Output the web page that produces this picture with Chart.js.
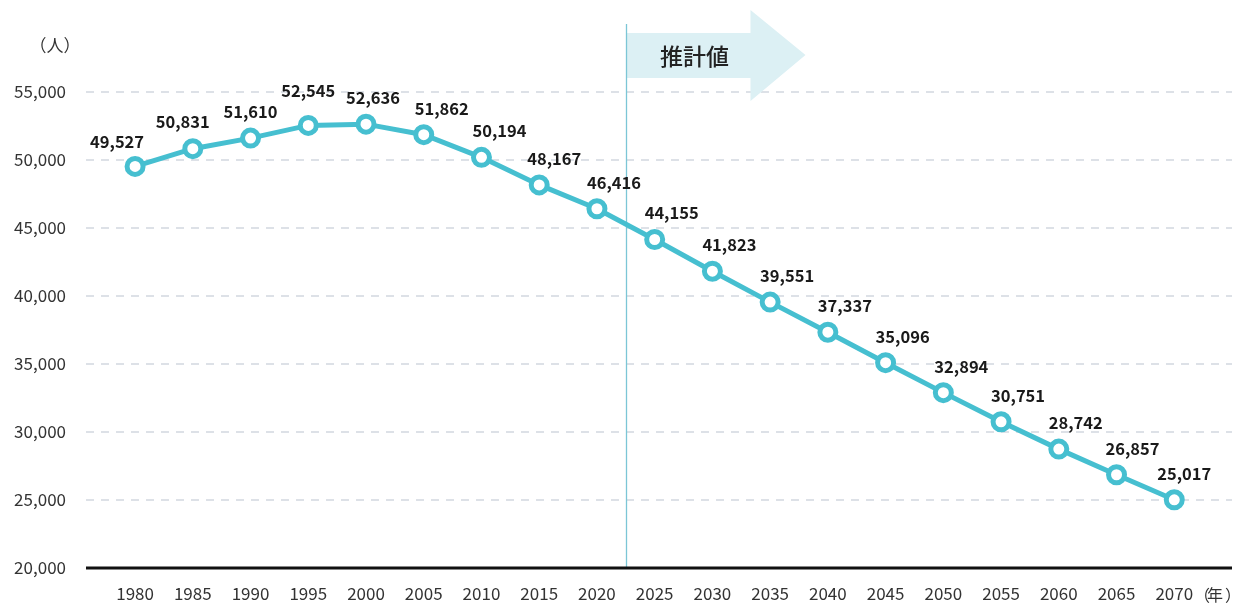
<!DOCTYPE html>
<html><head><meta charset="utf-8">
<script src="https://cdn.jsdelivr.net/npm/chart.js@4"></script>
<style>html,body{margin:0;padding:0;background:#fff}#w{width:1235px;height:607px;position:relative}</style>
</head><body><div id="w"><canvas id="c"></canvas></div>
<script>
const years = [1980,1985,1990,1995,2000,2005,2010,2015,2020,2025,2030,2035,2040,2045,2050,2055,2060,2065,2070];
const population = [49527,50831,51610,52545,52636,51862,50194,48167,46416,44155,41823,39551,37337,35096,32894,30751,28742,26857,25017];
const yTicks = [20000,25000,30000,35000,40000,45000,50000,55000];
const yUnit = '（人）';
const xUnit = '（年）';
const estimateLabel = '推計値';
const estimateStart = 2022.5;

// label placement (style): horizontal shift and baseline rise relative to each point
const labelShiftX = [-18,-10,0,0,7,18,18,15,17,17,17,17,17,17,18,17,17,16,10];
const labelRise = [18,21,20,28,20,20,20,20,20,20,20,20,20,20,20,20,20,20,20];

const FONT = '"Noto Sans CJK JP","Noto Sans",sans-serif';
const LINE = '#46bfd0';

const deco = {
  id:'deco',
  beforeDatasetsDraw(chart){
    const {ctx, scales:{x,y}, chartArea} = chart;
    const lx = Math.round(x.getPixelForValue(estimateStart)) + 0.5;
    ctx.save();
    // arrow
    ctx.fillStyle = '#dcf0f4';
    ctx.beginPath();
    ctx.moveTo(lx, 33);
    ctx.lineTo(lx+124, 33);
    ctx.lineTo(lx+124, 10);
    ctx.lineTo(lx+179, 55);
    ctx.lineTo(lx+124, 101);
    ctx.lineTo(lx+124, 78);
    ctx.lineTo(lx, 78);
    ctx.closePath();
    ctx.fill();
    ctx.fillStyle = '#222';
    ctx.font = '500 23px ' + FONT;
    ctx.textAlign = 'center'; ctx.textBaseline = 'middle';
    ctx.fillText(estimateLabel, lx+68, 56);
    // vertical line
    ctx.strokeStyle = '#7cc6d6';
    ctx.lineWidth = 1.3;
    ctx.beginPath(); ctx.moveTo(lx, 24); ctx.lineTo(lx, chartArea.bottom); ctx.stroke();
    // baseline
    ctx.strokeStyle = '#111'; ctx.lineWidth = 3;
    ctx.beginPath(); ctx.moveTo(chartArea.left, y.getPixelForValue(20000)); ctx.lineTo(chartArea.right, y.getPixelForValue(20000)); ctx.stroke();
    // unit labels
    ctx.fillStyle = '#333';
    ctx.font = '17px ' + FONT;
    ctx.textAlign = 'center';
    ctx.fillText(yUnit, 55, 46);
    // x unit: draw glyphs individually to keep it tight next to the last tick
    const chars = Array.from(xUnit);
    ctx.textAlign = 'left';
    ctx.font = '16px ' + FONT;
    ctx.fillText(chars[0], 1194, 595);
    ctx.fillText(chars[1], 1207, 595);
    ctx.fillText(chars[2], 1225, 595);
    ctx.restore();
  },
  afterDatasetsDraw(chart){
    const {ctx} = chart;
    const meta = chart.getDatasetMeta(0);
    ctx.save();
    ctx.fillStyle = '#1a1a1a';
    ctx.font = 'bold 16.5px ' + FONT;
    ctx.textAlign = 'center'; ctx.textBaseline = 'alphabetic';
    meta.data.forEach((p,i)=>{
      ctx.fillText(population[i].toLocaleString('en-US'), p.x + labelShiftX[i], p.y - labelRise[i]);
    });
    ctx.restore();
  }
};

new Chart(document.getElementById('c'), {
  type:'line',
  data:{ datasets:[{
    data: years.map((yr,i)=>({x:yr, y:population[i]})),
    borderColor: LINE, borderWidth: 5,
    pointRadius: 8, pointBorderWidth: 5, pointBackgroundColor:'#fff', pointBorderColor: LINE,
    pointHoverRadius: 8, tension: 0, clip: false
  }]},
  options:{
    responsive:true, maintainAspectRatio:false, animation:false,
    layout:{autoPadding:false, padding:{top:92, right:3, bottom:0, left:0}},
    plugins:{legend:{display:false}, tooltip:{enabled:false}},
    scales:{
      x:{ type:'linear', min:1975.75, max:2075,
        afterBuildTicks(s){ s.ticks = years.map(v=>({value:v})); },
        afterFit(s){ s.height = 39; s.paddingLeft = 0; s.paddingRight = 0; },
        grid:{display:false, drawTicks:false}, border:{display:false},
        ticks:{ color:'#333', font:{family:FONT, size:17}, padding:15, maxRotation:0, autoSkip:false,
          callback:v=>String(v) }
      },
      y:{ min:20000, max:55000,
        afterBuildTicks(s){ s.ticks = yTicks.map(v=>({value:v})); },
        afterFit(s){ s.width = 86; s.paddingTop = 0; s.paddingBottom = 0; },
        grid:{ color:'#dde1e7', lineWidth:2, drawTicks:false }, border:{display:false, dash:[8,7]},
        ticks:{ color:'#333', font:{family:FONT, size:17}, padding:20,
          callback:v=>v.toLocaleString('en-US') }
      }
    }
  },
  plugins:[deco]
});
</script></body></html>
